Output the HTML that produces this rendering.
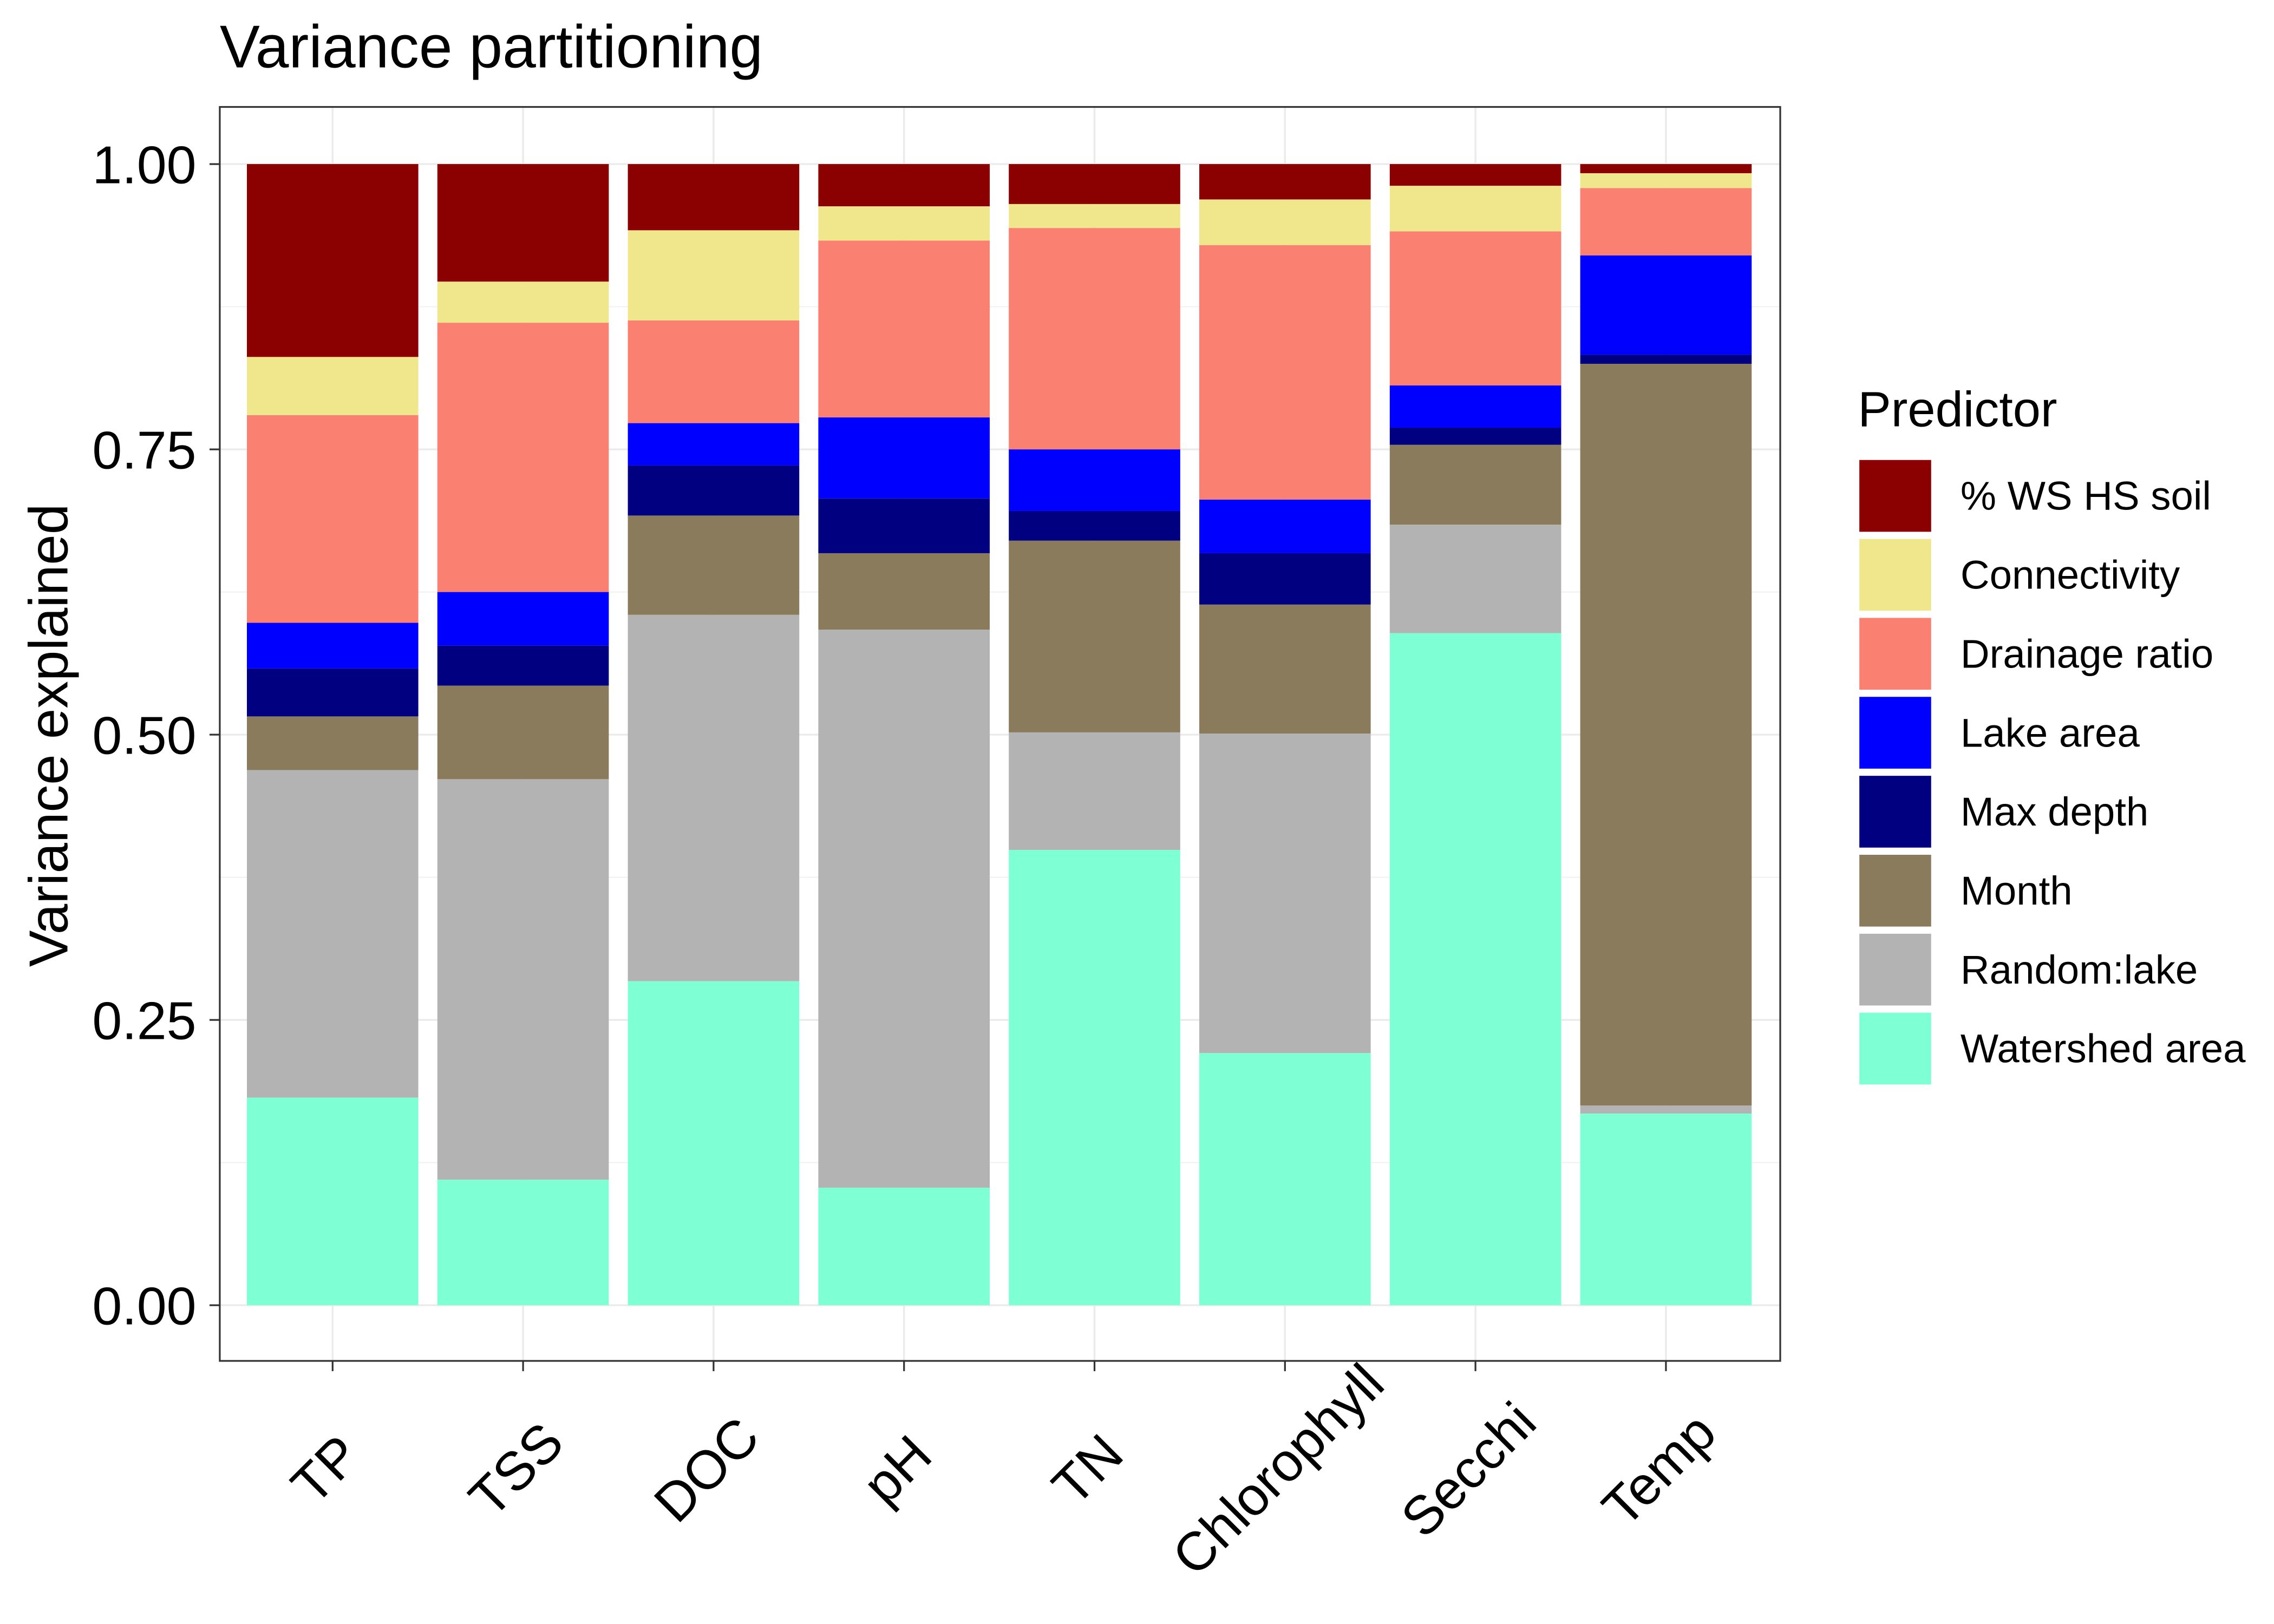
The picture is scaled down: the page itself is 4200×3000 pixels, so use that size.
<!DOCTYPE html>
<html><head><meta charset="utf-8"><style>html,body{margin:0;padding:0;background:#fff}svg{display:block}text{font-family:"Liberation Sans",Arial,sans-serif}</style></head>
<body>
<svg id="chart" xmlns="http://www.w3.org/2000/svg" width="4200" height="3000" viewBox="0 0 1552 1108.6" preserveAspectRatio="none">
<rect x="0" y="0" width="1552" height="1108.6" fill="#fff"/>
<text x="150" y="46" font-size="41">Variance partitioning</text>
<rect x="150" y="73" width="1065" height="856" fill="#fff"/>
<g id="grid"></g><g id="bars"></g>
<rect x="150" y="73" width="1065" height="856" fill="none" stroke="#333" stroke-width="1.2"/>
<g id="axes"></g><g id="legend"></g>
<text transform="translate(46,502) rotate(-90)" text-anchor="middle" font-size="37.5">Variance explained</text>
</svg>
<script>
const categories=["TP","TSS","DOC","pH","TN","Chlorophyll","Secchi","Temp"];
const predictors=["Watershed area","Random:lake","Month","Max depth","Lake area","Drainage ratio","Connectivity","% WS HS soil"];
const colors=["#7FFFD4","#B3B3B3","#8B7B5D","#000080","#0000FF","#FA8072","#F0E68C","#8B0000"];
const watershedArea=[0.182,0.110,0.284,0.103,0.399,0.221,0.589,0.168];
const randomLake=[0.287,0.351,0.321,0.489,0.103,0.280,0.095,0.007];
const month=[0.047,0.082,0.087,0.067,0.168,0.113,0.070,0.650];
const maxDepth=[0.042,0.035,0.044,0.048,0.026,0.045,0.015,0.008];
const lakeArea=[0.040,0.047,0.037,0.071,0.054,0.047,0.037,0.087];
const drainageRatio=[0.182,0.236,0.090,0.155,0.194,0.223,0.135,0.059];
const connectivity=[0.051,0.036,0.079,0.030,0.021,0.040,0.040,0.013];
const wsHsSoil=[0.169,0.103,0.058,0.037,0.035,0.031,0.019,0.008];
const yTicks=[0,0.25,0.5,0.75,1];
const yTickLabels=["0.00","0.25","0.50","0.75","1.00"];
const series=[watershedArea,randomLake,month,maxDepth,lakeArea,drainageRatio,connectivity,wsHsSoil];
const NS="http://www.w3.org/2000/svg";
const yS=v=>891-v*779;
const xS=i=>227+i*130;
const bw=117;
function mk(t,a,p){const e=document.createElementNS(NS,t);for(const k in a)e.setAttribute(k,a[k]);p.appendChild(e);return e;}
const grid=document.getElementById('grid'),bars=document.getElementById('bars'),axes=document.getElementById('axes'),leg=document.getElementById('legend');
for(let i=0;i<yTicks.length;i++){
 const g=mk('line',{x1:150,x2:1215,y1:yS(yTicks[i]),y2:yS(yTicks[i]),stroke:'#EBEBEB','stroke-width':1.3},grid);
 
 
 if(i<yTicks.length-1){const m=mk('line',{x1:150,x2:1215,y1:yS((yTicks[i]+yTicks[i+1])/2),y2:yS((yTicks[i]+yTicks[i+1])/2),stroke:'#F2F2F2','stroke-width':0.8},grid);
 
 }
 const t=mk('line',{x1:143,x2:150,y1:yS(yTicks[i]),y2:yS(yTicks[i]),stroke:'#333','stroke-width':1.2},axes);
 
 
 const l=mk('text',{x:134,y:yS(yTicks[i])+13,'text-anchor':'end','font-size':36.5},axes);
 
 
 l.textContent=yTickLabels[i];
}
categories.forEach((c,i)=>{
 const g=mk('line',{x1:xS(i),x2:xS(i),y1:73,y2:929,stroke:'#EBEBEB','stroke-width':1.3},grid);
 
 
 let cum=0;
 series.forEach((s,j)=>{
  const r=mk('rect',{x:xS(i)-bw/2,y:yS(cum+s[i]),width:bw,height:s[i]*779,fill:colors[j]},bars);
  
  
  cum+=s[i];
 });
 const t=mk('line',{x1:xS(i),x2:xS(i),y1:929,y2:936,stroke:'#333','stroke-width':1.2},axes);
 
 
 const l=mk('text',{transform:`translate(${xS(i)-5},${1003}) rotate(-45)`,'text-anchor':'middle','dy':'13','font-size':37},axes);
 
 
 l.textContent=c;
});
const lt=mk('text',{x:1268,y:291,'font-size':34},leg);


lt.textContent='Predictor';
for(let k=0;k<8;k++){
 const j=7-k;const y=314+k*53.9;
 const r=mk('rect',{x:1269,y:y,width:49,height:49,fill:colors[j]},leg);
 
 
 const t=mk('text',{x:1338,y:y+34,'font-size':27.5},leg);
 
 
 t.textContent=predictors[j];
}
</script>
</body></html>
